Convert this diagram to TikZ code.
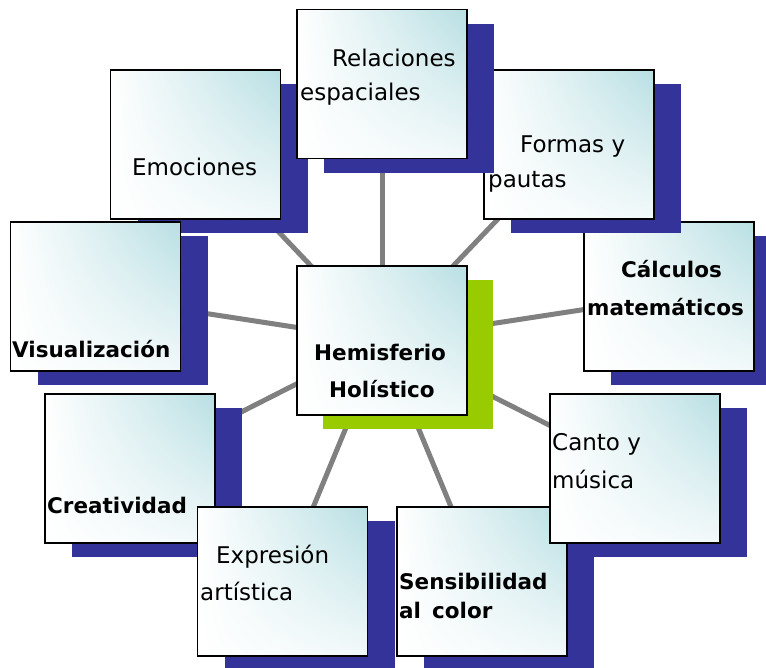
\documentclass[tikz,border=0pt]{standalone}
\usepackage{fontspec}
\setmainfont{DejaVu Sans}
\usetikzlibrary{shadows,shadings}
\definecolor{shblue}{RGB}{51,51,153}
\definecolor{shgreen}{RGB}{153,204,0}
\definecolor{tealc}{RGB}{184,223,227}
\definecolor{paletl}{RGB}{242,249,250}
\definecolor{linegray}{RGB}{128,128,128}
\pgfdeclarelayer{bg}
\pgfsetlayers{bg,main}
\tikzset{
  box/.style={draw=black, line width=1.5pt, minimum width=170pt, minimum height=149pt,
    inner sep=0pt, upper left=white, upper right=tealc, lower left=white, lower right=paletl},
  bluebox/.style={box, drop shadow={shadow xshift=27pt, shadow yshift=-14pt, fill=shblue, opacity=1, draw=none}},
  greenbox/.style={box, drop shadow={shadow xshift=26pt, shadow yshift=-14pt, fill=shgreen, opacity=1, draw=none}},
  txt/.style={anchor=base west, inner sep=0pt, font=\fontsize{23}{28}\selectfont},
  btxt/.style={anchor=base west, inner sep=0pt, font=\fontsize{21.5}{26}\selectfont\bfseries},
  conn/.style={draw=linegray, line width=5pt}
}
\begin{document}
\begin{tikzpicture}[x=1pt,y=-1pt]
\useasboundingbox (0,0) rectangle (766,667);
% boxes in stacking order
\node[bluebox] (calc) at (669,296.5) {};
\node[bluebox] (form) at (569,144.5) {};
\node[bluebox] (emo) at (195.5,144.5) {};
\node[bluebox] (rel) at (382,84) {};
\node[bluebox] (vis) at (95.5,296.5) {};
\node[bluebox] (crea) at (130,468.5) {};
\node[bluebox] (expr) at (282.5,581.5) {};
\node[bluebox] (sens) at (482,581.5) {};
\node[bluebox] (canto) at (635,468.5) {};
\node[greenbox] (hem) at (382,340.5) {};
% texts
\node[txt] (relA) at (332,66) {Relaciones};
\node[txt] (relB) at (300,100) {espaciales};
\node[txt] (emoA) at (132,175) {Emociones};
\node[txt] (formA) at (520,152) {Formas y};
\node[txt] (formB) at (488,187) {pautas};
\node[btxt] (calcA) at (621,277) {Cálculos};
\node[btxt] (calcB) at (587,315) {matemáticos};
\node[btxt] (visA) at (12,357) {Visualización};
\node[btxt] (hemA) at (314,360) {Hemisferio};
\node[btxt] (hemB) at (329,397) {Holístico};
\node[btxt] (creaA) at (47,513) {Creatividad};
\node[txt] (exprA) at (216,563) {Expresión};
\node[txt] (exprB) at (200,600) {artística};
\node[txt] (cantoA) at (552,450) {Canto y};
\node[txt] (cantoB) at (552,488) {música};
\node[btxt] (sensA) at (399,589) {Sensibilidad};
\node[btxt] (sensB) at (399,618) {al\, color};
% connectors behind
\begin{pgfonlayer}{bg}
\foreach \n in {calc,form,emo,rel,vis,crea,expr,sens,canto}
  \draw[conn] (hem.center) -- (\n.center);
\end{pgfonlayer}
\end{tikzpicture}
\end{document}
